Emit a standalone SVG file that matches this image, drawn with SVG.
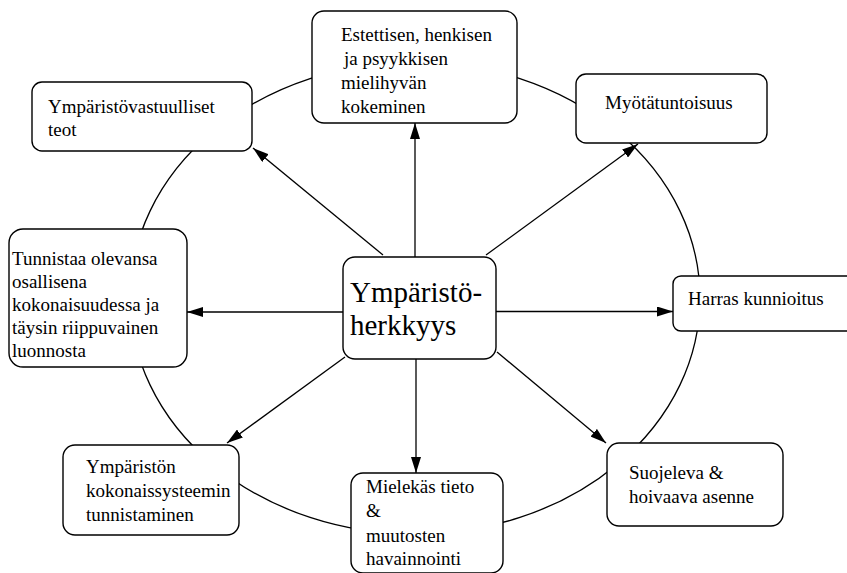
<svg xmlns="http://www.w3.org/2000/svg" width="847" height="573" viewBox="0 0 847 573">
<style>
.box{fill:#fff;stroke:#000;stroke-width:1.4}
text{font-family:'Liberation Serif','Times New Roman','DejaVu Serif',serif;fill:#000}
.t{font-size:19px}
.big{font-size:29px}
.c{fill:none;stroke:#000;stroke-width:1.3}
</style>
<defs>
<marker id="ah" markerUnits="userSpaceOnUse" markerWidth="17" markerHeight="10" refX="16" refY="5" orient="auto">
<path d="M0,0 L16,5 L0,10 z" fill="#000"/>
</marker>
</defs>
<rect width="847" height="573" fill="#fff"/>
<g id="connectors">
<ellipse class="c" cx="415" cy="298" rx="285" ry="236"/>
<path class="c" marker-end="url(#ah)" d="M415,257 L415,123"/>
<path class="c" marker-end="url(#ah)" d="M416,359 L416,473"/>
<path class="c" marker-end="url(#ah)" d="M343,312 L187,312"/>
<path class="c" marker-end="url(#ah)" d="M496,311.5 L673,311.5"/>
<path class="c" marker-end="url(#ah)" d="M383,255 L253,148"/>
<path class="c" marker-end="url(#ah)" d="M486,255 L638,144"/>
<path class="c" marker-end="url(#ah)" d="M345,357 L227,443"/>
<path class="c" marker-end="url(#ah)" d="M497,352 L606,443"/>
</g>
<g id="center">
<rect class="box" x="343" y="257" width="153" height="102" rx="12"/>
<text class="big" x="350" y="302" font-family="Liberation Serif, serif">Ympäristö-</text>
<text class="big" x="350" y="335" font-family="Liberation Serif, serif">herkkyys</text>
</g>
<g id="estettisen" font-family="Liberation Serif, serif">
<rect class="box" x="312" y="11" width="205" height="112" rx="12"/>
<text class="t" x="341" y="41">Estettisen, henkisen</text>
<text class="t" x="344" y="65">ja psyykkisen</text>
<text class="t" x="341" y="89">mielihyvän</text>
<text class="t" x="341" y="113">kokeminen</text>
</g>
<g id="vastuulliset">
<rect class="box" x="32" y="82" width="220" height="69" rx="10"/>
<text class="t" x="48" y="113">Ympäristövastuulliset</text>
<text class="t" x="48" y="136">teot</text>
</g>
<g id="tunnistaa">
<rect class="box" x="9" y="229" width="178" height="138" rx="14"/>
<text class="t" x="12" y="265">Tunnistaa olevansa</text>
<text class="t" x="12" y="288">osallisena</text>
<text class="t" x="12" y="311">kokonaisuudessa ja</text>
<text class="t" x="12" y="334">täysin riippuvainen</text>
<text class="t" x="12" y="357">luonnosta</text>
</g>
<g id="kokonaissysteemi">
<rect class="box" x="63" y="445" width="176" height="90" rx="12"/>
<text class="t" x="86" y="473">Ympäristön</text>
<text class="t" x="86" y="497">kokonaissysteemin</text>
<text class="t" x="86" y="521">tunnistaminen</text>
</g>
<g id="mielekas">
<rect class="box" x="351" y="473" width="152" height="100" rx="12"/>
<text class="t" x="366" y="493">Mielekäs tieto</text>
<text class="t" x="366" y="517">&amp;</text>
<text class="t" x="366" y="542">muutosten</text>
<text class="t" x="366" y="565">havainnointi</text>
</g>
<g id="suojeleva">
<rect class="box" x="607" y="443" width="176" height="83" rx="12"/>
<text class="t" x="629" y="479">Suojeleva &amp;</text>
<text class="t" x="629" y="503">hoivaava asenne</text>
</g>
<g id="harras">
<rect class="box" x="673" y="276" width="190" height="55" rx="8"/>
<text class="t" x="688" y="305">Harras kunnioitus</text>
</g>
<g id="myotatunto">
<rect class="box" x="576" y="74" width="191" height="69" rx="10"/>
<text class="t" x="605" y="109">Myötätuntoisuus</text>
</g>
</svg>
